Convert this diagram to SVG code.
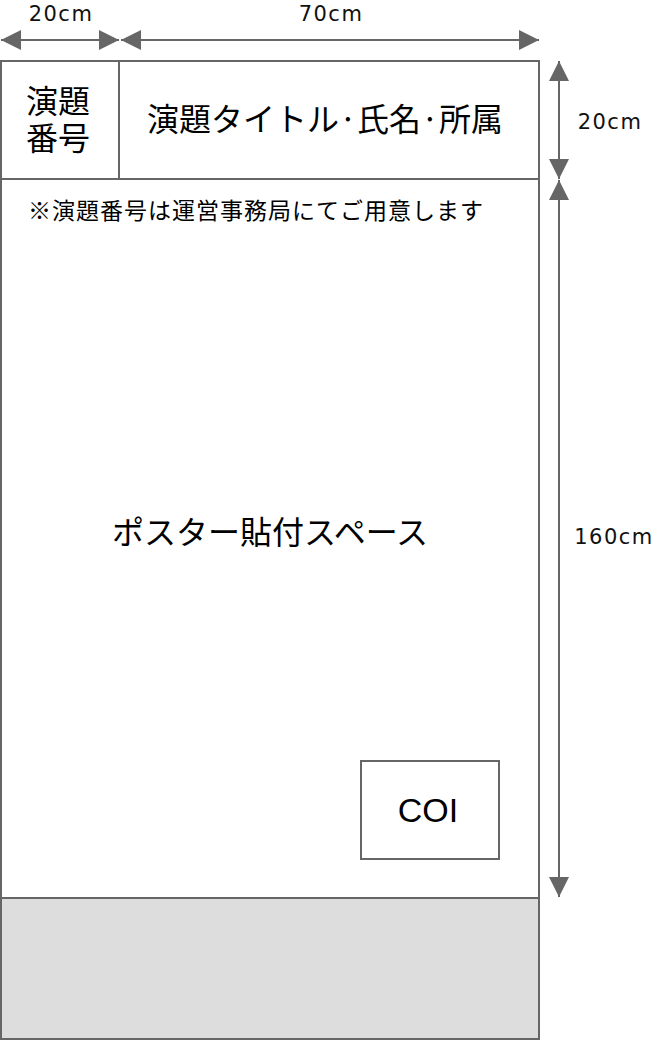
<svg xmlns="http://www.w3.org/2000/svg" width="660" height="1040" viewBox="0 0 660 1040">
<defs>
<style>
.box{fill:#fff;stroke:#666;stroke-width:2}
.dim{stroke:#666;stroke-width:2;fill:none}
.t{font-family:"Noto Sans CJK JP","Noto Sans",sans-serif;fill:#000;text-anchor:middle}
.lbl{font-family:"DejaVu Sans","Noto Sans",sans-serif;fill:#111;font-size:21px;letter-spacing:1.5px;text-anchor:middle}
</style>
<marker id="ah" viewBox="0 0 20 20" refX="20" refY="10" markerWidth="20" markerHeight="20" markerUnits="userSpaceOnUse" orient="auto-start-reverse">
<path d="M0,0 L20,10 L0,20 Z" fill="#666"/>
</marker>
</defs>
<g id="poster">
<rect class="box" x="1" y="61" width="538" height="978"/>
<rect x="1" y="898" width="538" height="141" fill="#ddd" stroke="#666" stroke-width="2"/>
</g>
<g id="number">
<rect class="box" x="1" y="61" width="118" height="118"/>
<text class="t" x="58" y="113" font-size="32">演題</text>
<text class="t" x="58" y="150" font-size="32">番号</text>
</g>
<g id="title">
<rect class="box" x="119" y="61" width="420" height="118"/>
<text class="t" x="325" y="131" font-size="32">演題タイトル·氏名·所属</text>
</g>
<g id="note">
<text class="t" x="28" y="219" font-size="23" letter-spacing="1" style="text-anchor:start">※演題番号は運営事務局にてご用意します</text>
</g>
<g id="space">
<text class="t" x="270" y="544" font-size="32">ポスター貼付スペース</text>
</g>
<g id="coi">
<rect class="box" x="361" y="761" width="138" height="98"/>
<text x="428" y="822" font-size="34" font-family="'Liberation Sans',Arial,sans-serif" text-anchor="middle" fill="#000">COI</text>
</g>
<g id="connectors">
<line class="dim" x1="1" y1="40" x2="119" y2="40" marker-start="url(#ah)" marker-end="url(#ah)"/>
<line class="dim" x1="121" y1="40" x2="539" y2="40" marker-start="url(#ah)" marker-end="url(#ah)"/>
<line class="dim" x1="559" y1="61" x2="559" y2="179" marker-start="url(#ah)" marker-end="url(#ah)"/>
<line class="dim" x1="559" y1="180" x2="559" y2="897" marker-start="url(#ah)" marker-end="url(#ah)"/>
<text class="lbl" x="61" y="21">20cm</text>
<text class="lbl" x="331" y="21">70cm</text>
<text class="lbl" x="610" y="129">20cm</text>
<text class="lbl" x="614" y="544">160cm</text>
</g>
</svg>
